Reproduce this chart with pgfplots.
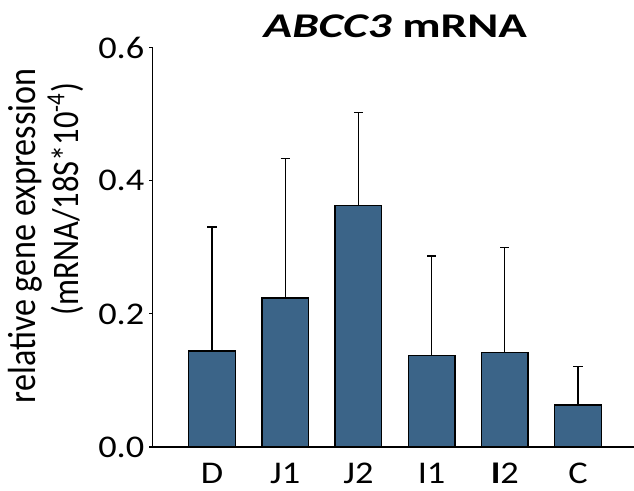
\documentclass[border=0pt]{standalone}
\usepackage{fontspec}
\setmainfont{Carlito}[FakeStretch=1.15]
\newfontfamily\plainfont{Carlito}
\newfontfamily\titlefont{Carlito}[FakeStretch=1.36]
\usepackage{pgfplots}
\pgfplotsset{compat=1.18}
\definecolor{barblue}{RGB}{59,100,136}

\pgfplotstableread{
x y e
0 0.1443 0.1863
1 0.2240 0.2092
2 0.3626 0.1403
3 0.1378 0.1492
4 0.1423 0.1572
5 0.0631 0.0576
}\abccdata

\begin{document}
\begin{tikzpicture}
\useasboundingbox (-114.375pt,-32.25pt) rectangle (361.125pt,335.25pt);
\begin{axis}[
  scale only axis, width=361.125pt, height=299.5pt,
  xmin=-0.813, xmax=5.765, ymin=0, ymax=0.6,
  clip=false,
  axis lines=left, axis line style={-, line width=0.8pt},
  xtick={0,...,5}, xticklabels={D,J1,J2,I1,\textbf{I}2,C},
  x tick style={draw=none},
  ytick={0,0.2,0.4,0.6},
  y tick style={line width=0.8pt, black},
  tick align=outside, major tick length=2.6pt,
  tick label style={font=\fontsize{23.7}{26}\selectfont},
  xticklabel style={anchor=base, yshift=-24.4pt},
  yticklabel style={/pgf/number format/.cd, fixed, fixed zerofill, precision=1, assume math mode=true},
]
\addplot[ybar, bar width=35pt, fill=barblue, draw=black, line width=1pt,
  error bars/.cd, y dir=plus, y explicit,
  error bar style={line width=0.8pt, black},
  error mark options={rotate=90, line width=0.8pt, black, mark size=3.4pt}]
  table[x=x, y=y, y error=e] {\abccdata};
\end{axis}
\node[anchor=base, rotate=90, font=\plainfont\fontsize{25.6}{28}\selectfont]
  at (-87.4pt,158.3pt) {\scalebox{1}[1.15]{relative gene expression}};
\node[anchor=base, rotate=90, font=\plainfont\fontsize{24.4}{28}\selectfont]
  at (-55.7pt,185.9pt) {\scalebox{1}[1.15]{(mRNA/18S*10\textsuperscript{-4})}};
\node[anchor=base, font=\titlefont\fontsize{26}{30}\selectfont\bfseries]
  at (182.1pt,307pt) {\textit{ABCC3} mRNA};
\end{tikzpicture}
\end{document}
